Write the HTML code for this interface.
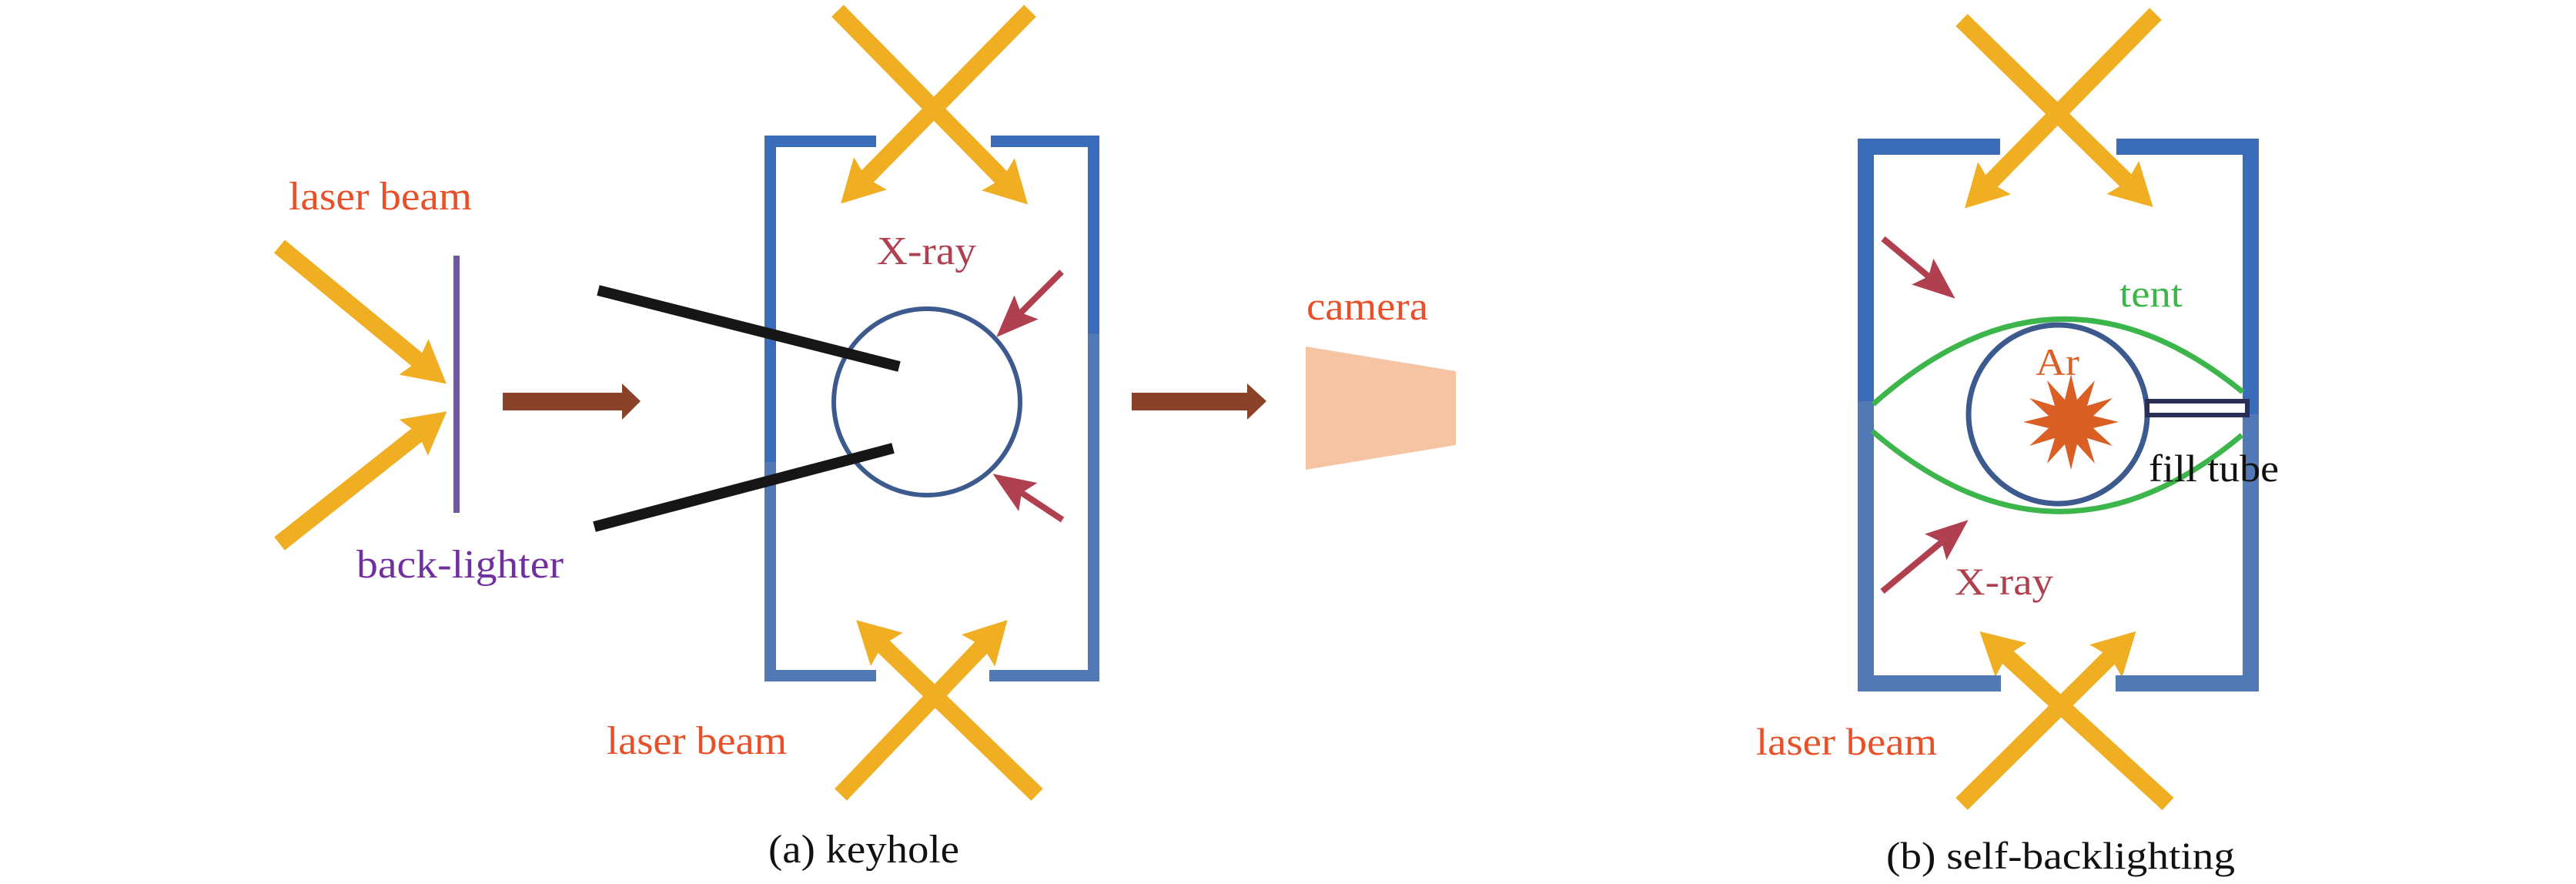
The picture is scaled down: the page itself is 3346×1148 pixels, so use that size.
<!DOCTYPE html>
<html><head><meta charset="utf-8"><style>html,body{margin:0;padding:0;background:#fff}svg{display:block}</style></head>
<body>
<svg xmlns="http://www.w3.org/2000/svg" width="3346" height="1148" viewBox="0 0 3346 1148">
<defs>
<marker id="yh" markerUnits="userSpaceOnUse" viewBox="0 0 55 60" markerWidth="55" markerHeight="60" refX="15" refY="30" orient="auto">
<path d="M0,0 L55,30 L0,60 L8,30 z" fill="#f0ae23"/>
</marker>
<marker id="rh" markerUnits="userSpaceOnUse" viewBox="0 0 55 44" markerWidth="55" markerHeight="44" refX="10" refY="22" orient="auto">
<path d="M0,0 L55,22 L0,44 L10,22 z" fill="#b04050"/>
</marker>
</defs>
<g font-family="Liberation Serif, serif">
<!-- (a) -->
<g stroke="#f0ae23" stroke-width="22" fill="none" marker-end="url(#yh)">
<line x1="363" y1="320" x2="549" y2="473"/>
<line x1="363" y1="706" x2="549" y2="559"/>
<line x1="1088" y1="14" x2="1307" y2="237"/>
<line x1="1338" y1="14" x2="1120" y2="236"/>
<line x1="1347" y1="1032" x2="1141" y2="833"/>
<line x1="1092" y1="1032" x2="1281" y2="834"/>
</g>
<rect x="589" y="332" width="8" height="334" fill="#7256a0"/>
<rect x="653" y="510" width="158" height="23" fill="#8b4229"/>
<polygon points="808,498 832,521 808,545" fill="#8b4229"/>
<rect x="1470" y="510" width="152" height="23" fill="#8b4229"/>
<polygon points="1620,498 1645,521 1620,545" fill="#8b4229"/>
<!-- box a -->
<g fill="#3b6cba">
<rect x="993" y="176" width="145" height="15"/>
<rect x="1287" y="176" width="141" height="15"/>
<rect x="993" y="176" width="15" height="424"/>
<rect x="1413" y="176" width="15" height="257"/>
</g>
<g fill="#5079b6">
<rect x="993" y="600" width="15" height="285"/>
<rect x="1413" y="433" width="15" height="452"/>
<rect x="993" y="870" width="145" height="15"/>
<rect x="1285" y="870" width="143" height="15"/>
</g>
<circle cx="1204" cy="522" r="121" fill="none" stroke="#3d5a8f" stroke-width="6"/>
<g stroke="#161616" stroke-width="14">
<line x1="777" y1="377" x2="1168" y2="476"/>
<line x1="772" y1="684" x2="1160" y2="582"/>
</g>
<g stroke="#b04050" stroke-width="8" marker-end="url(#rh)">
<line x1="1379" y1="353" x2="1326" y2="406"/>
<line x1="1380" y1="675" x2="1327" y2="640"/>
</g>
<polygon points="1696,450 1891,482 1891,578 1696,610" fill="#f6c4a2"/>
<g font-size="52" lengthAdjust="spacingAndGlyphs">
<text x="375" y="272" fill="#e8502a" textLength="238" lengthAdjust="spacingAndGlyphs">laser beam</text>
<text x="463" y="750" fill="#7030a0" textLength="269" lengthAdjust="spacingAndGlyphs">back-lighter</text>
<text x="1139" y="343" fill="#b04050" textLength="129" lengthAdjust="spacingAndGlyphs">X-ray</text>
<text x="1697" y="415" fill="#e8502a" textLength="158" lengthAdjust="spacingAndGlyphs">camera</text>
<text x="788" y="979" fill="#e8502a" textLength="234" lengthAdjust="spacingAndGlyphs">laser beam</text>
<text x="998" y="1120" fill="#111" textLength="248" lengthAdjust="spacingAndGlyphs">(a) keyhole</text>
</g>
<!-- (b) -->
<g stroke="#f0ae23" stroke-width="22" fill="none" marker-end="url(#yh)">
<line x1="2548" y1="26" x2="2768" y2="241"/>
<line x1="2800" y1="18" x2="2580" y2="242"/>
<line x1="2816" y1="1044" x2="2601" y2="847"/>
<line x1="2548" y1="1044" x2="2746" y2="848"/>
</g>
<g fill="#3b6cba">
<rect x="2413" y="180" width="185" height="21"/>
<rect x="2749" y="180" width="185" height="21"/>
<rect x="2413" y="180" width="21" height="341"/>
<rect x="2913" y="180" width="21" height="358"/>
</g>
<g fill="#5079b6">
<rect x="2413" y="521" width="21" height="377"/>
<rect x="2913" y="538" width="21" height="360"/>
<rect x="2413" y="877" width="186" height="21"/>
<rect x="2748" y="877" width="186" height="21"/>
</g>
<g stroke="#3cb54a" stroke-width="7" fill="none">
<path d="M2433,525 Q2672,312 2913,509"/>
<path d="M2432,560 Q2672,766 2912,565"/>
</g>
<circle cx="2673" cy="538" r="116" fill="none" stroke="#3d5a8f" stroke-width="7"/>
<rect x="2789" y="521" width="130" height="18" fill="#fff" stroke="#2a2f55" stroke-width="6"/>
<polygon fill="#d95f24" points="2690,486 2698,519 2721,494 2711,527 2744,517 2719,540 2752,548 2719,556 2744,579 2711,569 2721,602 2698,577 2690,610 2682,577 2659,602 2669,569 2636,579 2661,556 2628,548 2661,540 2636,517 2669,527 2659,494 2682,519"/>
<g stroke="#b04050" stroke-width="8" marker-end="url(#rh)">
<line x1="2446" y1="310" x2="2505" y2="359"/>
<line x1="2445" y1="768" x2="2522" y2="704"/>
</g>
<g font-size="50">
<text x="2753" y="398" fill="#3cb54a" textLength="82" lengthAdjust="spacingAndGlyphs">tent</text>
<text x="2644" y="487" fill="#d95f24" textLength="57" lengthAdjust="spacingAndGlyphs">Ar</text>
<text x="2791" y="625" fill="#111" textLength="169" lengthAdjust="spacingAndGlyphs">fill tube</text>
<text x="2539" y="772" fill="#b04050" textLength="128" lengthAdjust="spacingAndGlyphs">X-ray</text>
<text x="2281" y="980" fill="#e8502a" textLength="235" lengthAdjust="spacingAndGlyphs">laser beam</text>
<text x="2450" y="1128" fill="#111" textLength="453" lengthAdjust="spacingAndGlyphs">(b) self-backlighting</text>
</g>
</g>
</svg>
</body></html>
